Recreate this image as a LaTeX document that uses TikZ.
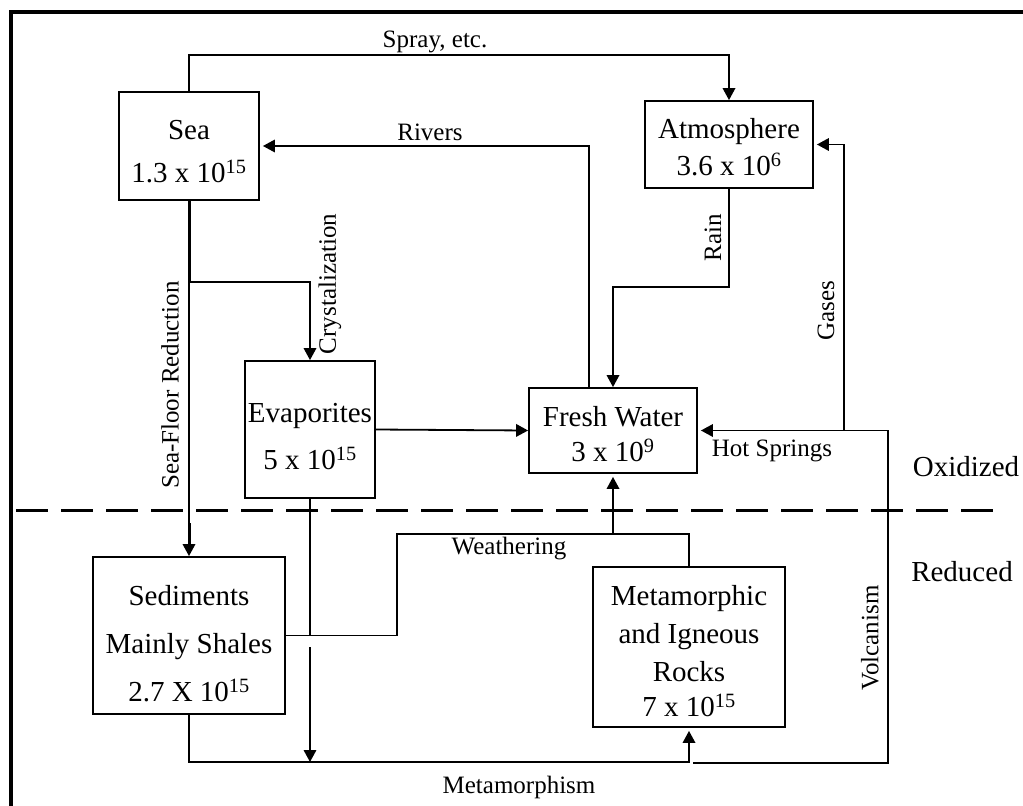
\documentclass[tikz,border=0pt]{standalone}
\usepackage{fontspec}
\setmainfont{Liberation Serif}
\usetikzlibrary{arrows.meta,calc}
\begin{document}
\begin{tikzpicture}[x=1pt,y=-1pt,
  box/.style={draw,line width=1.8pt,inner sep=0pt},
  boxtext/.style={align=center,inner sep=0pt,font=\fontsize{29}{35}\selectfont},
  flow/.style={line width=1.8pt},
  arr/.style={flow,-{Triangle[length=12pt,width=12.5pt]}},
  lab/.style={font=\fontsize{25}{30}\selectfont,inner sep=0pt},
  zone/.style={font=\fontsize{29}{35}\selectfont,inner sep=0pt}]
\useasboundingbox (0,0) rectangle (1023,806);
% frame
\draw[line width=3.5pt] (11,806) -- (11,12) -- (1023,12);
\draw[line width=3pt,dash pattern=on 32pt off 13pt] (16,510) -- (993,510);
% boxes
\node[box,minimum width=140pt,minimum height=108pt] (sea) at (189,146) {};
\node[box,minimum width=168pt,minimum height=87pt] (atm) at (729,144.5) {};
\node[box,minimum width=130pt,minimum height=137pt] (evap) at (310,429.5) {};
\node[box,minimum width=168pt,minimum height=85pt] (fresh) at (613,430.5) {};
\node[box,minimum width=192pt,minimum height=157pt] (sed) at (189,635.5) {};
\node[box,minimum width=192pt,minimum height=160pt] (meta) at (689,647) {};
% box texts
\node[boxtext] (seat) at ($(sea.center)+(0,6)$) {Sea\\[8pt]1.3 x 10\textsuperscript{15}};
\node[boxtext] (atmt) at ($(atm.center)+(0,3)$) {Atmosphere\\[2pt]3.6 x 10\textsuperscript{6}};
\node[boxtext] (evapt) at ($(evap.center)+(0,7)$) {Evaporites\\[12pt]5 x 10\textsuperscript{15}};
\node[boxtext] (fresht) at ($(fresh.center)+(0,4)$) {Fresh Water\\3 x 10\textsuperscript{9}};
\node[boxtext] (sedt) at ($(sed.center)+(0,8)$) {Sediments\\[13pt]Mainly Shales\\[13pt]2.7 X 10\textsuperscript{15}};
\node[boxtext] (metat) at ($(meta.center)+(0,4)$) {Metamorphic\\[3pt]and Igneous\\[3pt]Rocks\\[0pt]7 x 10\textsuperscript{15}};
% coordinates
\coordinate (raincorner) at (729,287);
\coordinate (volc) at (693,763);
\coordinate (volccorner) at (888,763);
\coordinate (gasfork) at (844,430.5);
\coordinate (crfork) at (189,282);
\coordinate (evapgap) at (310,647);
\coordinate (metaline) at (310,762);
\coordinate (wbend) at (397,534);
\coordinate (mline) at (689,762);
% connectors
\draw[arr] (sea.north) -- ++(0,-36) -| (atm.north);
\draw[arr,shorten >=3pt] ([xshift=-24pt]fresh.north) |- (sea.east);
\draw[arr] (atm.south) -- (raincorner) -| (fresh.north);
\draw[arr,shorten >=3pt] (volc) -- (volccorner) |- (fresh.east);
\draw[arr,shorten >=3pt] (gasfork) |- (atm.east);
\draw[arr] (sea.south) -- (sed.north);
\draw[line width=3pt] (sea.south) -- (crfork);
\draw[line width=3pt] ($(sed.north)+(0,-33)$) -- ($(sed.north)+(0,-12)$);
\draw[arr] (crfork) -| (evap.north);
\draw[arr] (evap.east) -- (fresh.west);
\draw[flow] (evap.south) -- (evap.south |- sed.east);
\draw[arr] (evapgap) -- (metaline);
\draw[flow] (sed.east) -| (wbend) -| (meta.north);
\draw[arr,shorten >=3pt] (fresh.south |- wbend) -- (fresh.south);
\draw[arr,shorten >=3pt] (sed.south) |- (mline) -- (meta.south);
% labels
\node[lab] (lspray) at (435,42) {Spray, etc.};
\node[lab] (lrivers) at (430,132) {Rivers};
\node[lab,rotate=90] (lrain) at (713,238) {Rain};
\node[lab,rotate=90] (lgases) at (826,311) {Gases};
\node[lab,rotate=90] (lsfr) at (170,385) {Sea-Floor Reduction};
\node[lab,rotate=90] (lcryst) at (330,284) {Crystalization};
\node[lab] (lhot) at (772,451) {Hot Springs};
\node[lab,rotate=90] (lvolc) at (870,638) {Volcanism};
\node[lab] (lweath) at (509,549) {Weathering};
\node[lab] (lmeta) at (519,787) {Metamorphism};
\node[zone] (lox) at (966,467) {Oxidized};
\node[zone] (lred) at (962,572) {Reduced};
\end{tikzpicture}
\end{document}
